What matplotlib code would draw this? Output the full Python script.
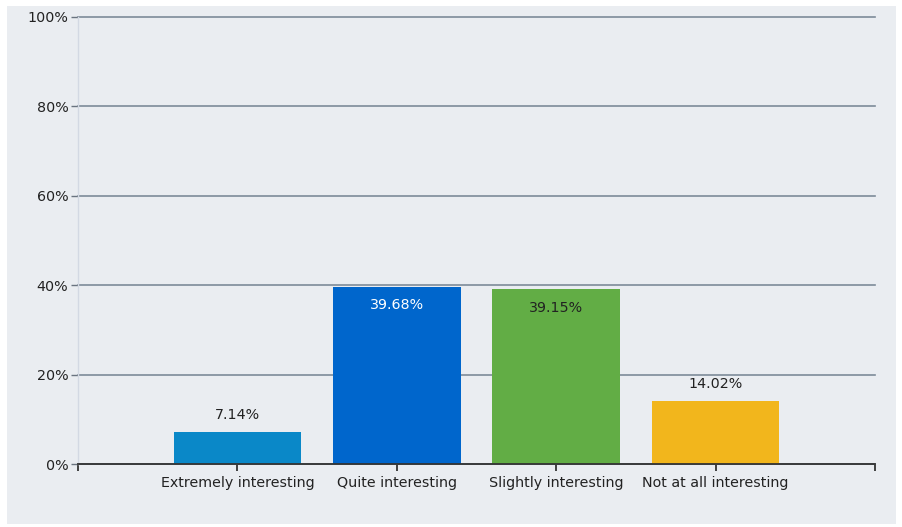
import matplotlib
matplotlib.use("Agg")
import matplotlib.pyplot as plt
from matplotlib.patches import Rectangle

categories = ["Extremely interesting", "Quite interesting", "Slightly interesting", "Not at all interesting"]
values = [7.14, 39.68, 39.15, 14.02]
colors = ["#0a88c8", "#0066cc", "#62ad45", "#f2b61c"]
label_inside = [False, True, True, False]
label_colors = ["#222222", "#ffffff", "#222222", "#222222"]
yticks = [0, 20, 40, 60, 80, 100]

plt.rcParams["font.family"] = ["DejaVu Sans"]
FS = 10.3

W, H = 903, 527
fig = plt.figure(figsize=(W / 100, H / 100), dpi=100, facecolor="white")
# grey panel behind the chart
fig.patches.append(Rectangle((7 / W, 1 - 524 / H), (896 - 7) / W, (524 - 6) / H,
                             transform=fig.transFigure, facecolor="#eaedf1",
                             edgecolor="none", zorder=-1))

ax = fig.add_axes([78 / W, 1 - 464 / H, (875 - 78) / W, (464 - 17) / H])
ax.set_zorder(2)
ax.set_facecolor("none")

xs = list(range(1, len(categories) + 1))
ax.bar(xs, values, width=0.8, color=colors, zorder=3)
for x, v, inside, lc in zip(xs, values, label_inside, label_colors):
    if inside:
        ax.text(x, v - 4.2, f"{v:.2f}%", ha="center", va="center", color=lc, fontsize=FS, zorder=4)
    else:
        ax.text(x, v + 2.3, f"{v:.2f}%", ha="center", va="bottom", color=lc, fontsize=FS, zorder=4)

ax.set_xlim(0, 5)
ax.set_ylim(0, 100)
ax.set_yticks(yticks)
ax.set_yticklabels([f"{t}%" for t in yticks], fontsize=FS, color="#222222")
ax.set_xticks([0] + xs + [5])
ax.set_xticklabels([""] + categories + [""], fontsize=FS, color="#222222")
ax.yaxis.grid(True, color="#7d8b99", linewidth=1.2, zorder=1)
for gl in ax.get_ygridlines():
    gl.set_clip_on(False)   # keep the 100% line full width
ax.tick_params(axis="y", length=5, width=1, color="#6a7480", pad=2)
ax.tick_params(axis="x", length=5, width=1.3, color="#333333", pad=4)

for s in ["top", "right"]:
    ax.spines[s].set_visible(False)
ax.spines["left"].set_color("#d3d9e3")
ax.spines["left"].set_linewidth(1)
ax.spines["bottom"].set_color("#333333")
ax.spines["bottom"].set_linewidth(1.3)
ax.spines["bottom"].set_zorder(5)

fig.savefig("out.png", dpi=100, facecolor="white")
